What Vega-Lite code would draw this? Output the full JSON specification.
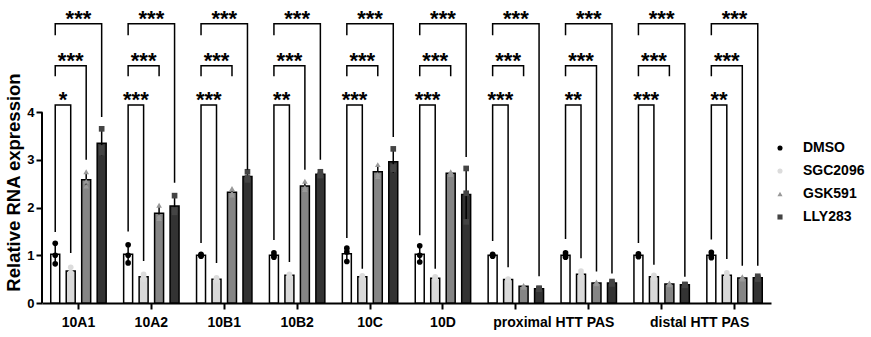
{
  "$schema": "https://vega.github.io/schema/vega-lite/v6.json",
  "width": 729,
  "height": 303,
  "autosize": {"type": "none"},
  "padding": {"left": 42, "top": 0, "right": 100, "bottom": 34},
  "config": {"font": "Liberation Sans", "view": {"stroke": null}},
  "datasets": {
    "pts": [
      {"c":"10A1","g":"DMSO","v":1.25},{"c":"10A1","g":"DMSO","v":1.0},{"c":"10A1","g":"DMSO","v":0.82},
      {"c":"10A1","g":"SGC2096","v":0.75},{"c":"10A1","g":"SGC2096","v":0.63},{"c":"10A1","g":"SGC2096","v":0.63},
      {"c":"10A1","g":"GSK591","v":2.75},{"c":"10A1","g":"GSK591","v":2.55},{"c":"10A1","g":"GSK591","v":2.45},
      {"c":"10A1","g":"LLY283","v":3.65},{"c":"10A1","g":"LLY283","v":3.25},{"c":"10A1","g":"LLY283","v":3.15},
      {"c":"10A2","g":"DMSO","v":1.22},{"c":"10A2","g":"DMSO","v":1.0},{"c":"10A2","g":"DMSO","v":0.84},
      {"c":"10A2","g":"SGC2096","v":0.6},{"c":"10A2","g":"SGC2096","v":0.55},{"c":"10A2","g":"SGC2096","v":0.5},
      {"c":"10A2","g":"GSK591","v":2.05},{"c":"10A2","g":"GSK591","v":1.82},{"c":"10A2","g":"GSK591","v":1.77},
      {"c":"10A2","g":"LLY283","v":2.25},{"c":"10A2","g":"LLY283","v":1.95},{"c":"10A2","g":"LLY283","v":1.9},
      {"c":"10B1","g":"DMSO","v":1.02},{"c":"10B1","g":"DMSO","v":1.0},{"c":"10B1","g":"DMSO","v":0.98},
      {"c":"10B1","g":"SGC2096","v":0.53},{"c":"10B1","g":"SGC2096","v":0.5},{"c":"10B1","g":"SGC2096","v":0.47},
      {"c":"10B1","g":"GSK591","v":2.4},{"c":"10B1","g":"GSK591","v":2.3},{"c":"10B1","g":"GSK591","v":2.26},
      {"c":"10B1","g":"LLY283","v":2.75},{"c":"10B1","g":"LLY283","v":2.62},{"c":"10B1","g":"LLY283","v":2.58},
      {"c":"10B2","g":"DMSO","v":1.05},{"c":"10B2","g":"DMSO","v":0.99},{"c":"10B2","g":"DMSO","v":0.96},
      {"c":"10B2","g":"SGC2096","v":0.6},{"c":"10B2","g":"SGC2096","v":0.58},{"c":"10B2","g":"SGC2096","v":0.56},
      {"c":"10B2","g":"GSK591","v":2.55},{"c":"10B2","g":"GSK591","v":2.42},{"c":"10B2","g":"GSK591","v":2.38},
      {"c":"10B2","g":"LLY283","v":2.75},{"c":"10B2","g":"LLY283","v":2.68},{"c":"10B2","g":"LLY283","v":2.67},
      {"c":"10C","g":"DMSO","v":1.15},{"c":"10C","g":"DMSO","v":1.07},{"c":"10C","g":"DMSO","v":0.87},
      {"c":"10C","g":"SGC2096","v":0.57},{"c":"10C","g":"SGC2096","v":0.55},{"c":"10C","g":"SGC2096","v":0.53},
      {"c":"10C","g":"GSK591","v":2.9},{"c":"10C","g":"GSK591","v":2.7},{"c":"10C","g":"GSK591","v":2.65},
      {"c":"10C","g":"LLY283","v":3.23},{"c":"10C","g":"LLY283","v":2.85},{"c":"10C","g":"LLY283","v":2.8},
      {"c":"10D","g":"DMSO","v":1.2},{"c":"10D","g":"DMSO","v":1.0},{"c":"10D","g":"DMSO","v":0.86},
      {"c":"10D","g":"SGC2096","v":0.55},{"c":"10D","g":"SGC2096","v":0.52},{"c":"10D","g":"SGC2096","v":0.49},
      {"c":"10D","g":"GSK591","v":2.75},{"c":"10D","g":"GSK591","v":2.72},{"c":"10D","g":"GSK591","v":2.69},
      {"c":"10D","g":"LLY283","v":2.82},{"c":"10D","g":"LLY283","v":2.3},{"c":"10D","g":"LLY283","v":1.7},
      {"c":"P1","g":"DMSO","v":1.02},{"c":"P1","g":"DMSO","v":1.0},{"c":"P1","g":"DMSO","v":0.98},
      {"c":"P1","g":"SGC2096","v":0.5},{"c":"P1","g":"SGC2096","v":0.49},{"c":"P1","g":"SGC2096","v":0.48},
      {"c":"P1","g":"GSK591","v":0.37},{"c":"P1","g":"GSK591","v":0.35},{"c":"P1","g":"GSK591","v":0.33},
      {"c":"P1","g":"LLY283","v":0.31},{"c":"P1","g":"LLY283","v":0.3},{"c":"P1","g":"LLY283","v":0.29},
      {"c":"P2","g":"DMSO","v":1.05},{"c":"P2","g":"DMSO","v":0.99},{"c":"P2","g":"DMSO","v":0.96},
      {"c":"P2","g":"SGC2096","v":0.67},{"c":"P2","g":"SGC2096","v":0.6},{"c":"P2","g":"SGC2096","v":0.53},
      {"c":"P2","g":"GSK591","v":0.44},{"c":"P2","g":"GSK591","v":0.42},{"c":"P2","g":"GSK591","v":0.4},
      {"c":"P2","g":"LLY283","v":0.45},{"c":"P2","g":"LLY283","v":0.41},{"c":"P2","g":"LLY283","v":0.4},
      {"c":"D1","g":"DMSO","v":1.03},{"c":"D1","g":"DMSO","v":1.0},{"c":"D1","g":"DMSO","v":0.97},
      {"c":"D1","g":"SGC2096","v":0.58},{"c":"D1","g":"SGC2096","v":0.55},{"c":"D1","g":"SGC2096","v":0.52},
      {"c":"D1","g":"GSK591","v":0.42},{"c":"D1","g":"GSK591","v":0.4},{"c":"D1","g":"GSK591","v":0.38},
      {"c":"D1","g":"LLY283","v":0.39},{"c":"D1","g":"LLY283","v":0.38},{"c":"D1","g":"LLY283","v":0.37},
      {"c":"D2","g":"DMSO","v":1.06},{"c":"D2","g":"DMSO","v":0.99},{"c":"D2","g":"DMSO","v":0.95},
      {"c":"D2","g":"SGC2096","v":0.63},{"c":"D2","g":"SGC2096","v":0.57},{"c":"D2","g":"SGC2096","v":0.54},
      {"c":"D2","g":"GSK591","v":0.55},{"c":"D2","g":"GSK591","v":0.52},{"c":"D2","g":"GSK591","v":0.5},
      {"c":"D2","g":"LLY283","v":0.56},{"c":"D2","g":"LLY283","v":0.53},{"c":"D2","g":"LLY283","v":0.5}
    ],
    "br": [
      {"c":"10A1","b":"10A1-1","g":"DMSO","y":1.49,"o":0},{"c":"10A1","b":"10A1-1","g":"DMSO","y":4.15,"o":1},{"c":"10A1","b":"10A1-1","g":"SGC2096","y":4.15,"o":2},{"c":"10A1","b":"10A1-1","g":"SGC2096","y":1.05,"o":3},
      {"c":"10A1","b":"10A1-2","g":"DMSO","y":4.75,"o":0},{"c":"10A1","b":"10A1-2","g":"DMSO","y":4.97,"o":1},{"c":"10A1","b":"10A1-2","g":"GSK591","y":4.97,"o":2},{"c":"10A1","b":"10A1-2","g":"GSK591","y":3.0,"o":3},
      {"c":"10A1","b":"10A1-3","g":"DMSO","y":5.61,"o":0},{"c":"10A1","b":"10A1-3","g":"DMSO","y":5.85,"o":1},{"c":"10A1","b":"10A1-3","g":"LLY283","y":5.85,"o":2},{"c":"10A1","b":"10A1-3","g":"LLY283","y":3.9,"o":3},
      {"c":"10A2","b":"10A2-1","g":"DMSO","y":1.5,"o":0},{"c":"10A2","b":"10A2-1","g":"DMSO","y":4.15,"o":1},{"c":"10A2","b":"10A2-1","g":"SGC2096","y":4.15,"o":2},{"c":"10A2","b":"10A2-1","g":"SGC2096","y":0.88,"o":3},
      {"c":"10A2","b":"10A2-2","g":"DMSO","y":4.75,"o":0},{"c":"10A2","b":"10A2-2","g":"DMSO","y":4.97,"o":1},{"c":"10A2","b":"10A2-2","g":"GSK591","y":4.97,"o":2},{"c":"10A2","b":"10A2-2","g":"GSK591","y":4.75,"o":3},
      {"c":"10A2","b":"10A2-3","g":"DMSO","y":5.61,"o":0},{"c":"10A2","b":"10A2-3","g":"DMSO","y":5.85,"o":1},{"c":"10A2","b":"10A2-3","g":"LLY283","y":5.85,"o":2},{"c":"10A2","b":"10A2-3","g":"LLY283","y":2.52,"o":3},
      {"c":"10B1","b":"10B1-1","g":"DMSO","y":1.26,"o":0},{"c":"10B1","b":"10B1-1","g":"DMSO","y":4.15,"o":1},{"c":"10B1","b":"10B1-1","g":"SGC2096","y":4.15,"o":2},{"c":"10B1","b":"10B1-1","g":"SGC2096","y":0.84,"o":3},
      {"c":"10B1","b":"10B1-2","g":"DMSO","y":4.75,"o":0},{"c":"10B1","b":"10B1-2","g":"DMSO","y":4.97,"o":1},{"c":"10B1","b":"10B1-2","g":"GSK591","y":4.97,"o":2},{"c":"10B1","b":"10B1-2","g":"GSK591","y":4.75,"o":3},
      {"c":"10B1","b":"10B1-3","g":"DMSO","y":5.61,"o":0},{"c":"10B1","b":"10B1-3","g":"DMSO","y":5.85,"o":1},{"c":"10B1","b":"10B1-3","g":"LLY283","y":5.85,"o":2},{"c":"10B1","b":"10B1-3","g":"LLY283","y":2.79,"o":3},
      {"c":"10B2","b":"10B2-1","g":"DMSO","y":1.32,"o":0},{"c":"10B2","b":"10B2-1","g":"DMSO","y":4.15,"o":1},{"c":"10B2","b":"10B2-1","g":"SGC2096","y":4.15,"o":2},{"c":"10B2","b":"10B2-1","g":"SGC2096","y":0.86,"o":3},
      {"c":"10B2","b":"10B2-2","g":"DMSO","y":4.75,"o":0},{"c":"10B2","b":"10B2-2","g":"DMSO","y":4.97,"o":1},{"c":"10B2","b":"10B2-2","g":"GSK591","y":4.97,"o":2},{"c":"10B2","b":"10B2-2","g":"GSK591","y":2.79,"o":3},
      {"c":"10B2","b":"10B2-3","g":"DMSO","y":5.61,"o":0},{"c":"10B2","b":"10B2-3","g":"DMSO","y":5.85,"o":1},{"c":"10B2","b":"10B2-3","g":"LLY283","y":5.85,"o":2},{"c":"10B2","b":"10B2-3","g":"LLY283","y":3.0,"o":3},
      {"c":"10C","b":"10C-1","g":"DMSO","y":1.36,"o":0},{"c":"10C","b":"10C-1","g":"DMSO","y":4.15,"o":1},{"c":"10C","b":"10C-1","g":"SGC2096","y":4.15,"o":2},{"c":"10C","b":"10C-1","g":"SGC2096","y":0.72,"o":3},
      {"c":"10C","b":"10C-2","g":"DMSO","y":4.75,"o":0},{"c":"10C","b":"10C-2","g":"DMSO","y":4.97,"o":1},{"c":"10C","b":"10C-2","g":"GSK591","y":4.97,"o":2},{"c":"10C","b":"10C-2","g":"GSK591","y":4.75,"o":3},
      {"c":"10C","b":"10C-3","g":"DMSO","y":5.61,"o":0},{"c":"10C","b":"10C-3","g":"DMSO","y":5.85,"o":1},{"c":"10C","b":"10C-3","g":"LLY283","y":5.85,"o":2},{"c":"10C","b":"10C-3","g":"LLY283","y":3.48,"o":3},
      {"c":"10D","b":"10D-1","g":"DMSO","y":1.42,"o":0},{"c":"10D","b":"10D-1","g":"DMSO","y":4.15,"o":1},{"c":"10D","b":"10D-1","g":"SGC2096","y":4.15,"o":2},{"c":"10D","b":"10D-1","g":"SGC2096","y":0.72,"o":3},
      {"c":"10D","b":"10D-2","g":"DMSO","y":4.75,"o":0},{"c":"10D","b":"10D-2","g":"DMSO","y":4.97,"o":1},{"c":"10D","b":"10D-2","g":"GSK591","y":4.97,"o":2},{"c":"10D","b":"10D-2","g":"GSK591","y":4.75,"o":3},
      {"c":"10D","b":"10D-3","g":"DMSO","y":5.61,"o":0},{"c":"10D","b":"10D-3","g":"DMSO","y":5.85,"o":1},{"c":"10D","b":"10D-3","g":"LLY283","y":5.85,"o":2},{"c":"10D","b":"10D-3","g":"LLY283","y":3.06,"o":3},
      {"c":"P1","b":"P1-1","g":"DMSO","y":1.3,"o":0},{"c":"P1","b":"P1-1","g":"DMSO","y":4.15,"o":1},{"c":"P1","b":"P1-1","g":"SGC2096","y":4.15,"o":2},{"c":"P1","b":"P1-1","g":"SGC2096","y":0.75,"o":3},
      {"c":"P1","b":"P1-2","g":"DMSO","y":4.75,"o":0},{"c":"P1","b":"P1-2","g":"DMSO","y":4.97,"o":1},{"c":"P1","b":"P1-2","g":"GSK591","y":4.97,"o":2},{"c":"P1","b":"P1-2","g":"GSK591","y":4.75,"o":3},
      {"c":"P1","b":"P1-3","g":"DMSO","y":5.61,"o":0},{"c":"P1","b":"P1-3","g":"DMSO","y":5.85,"o":1},{"c":"P1","b":"P1-3","g":"LLY283","y":5.85,"o":2},{"c":"P1","b":"P1-3","g":"LLY283","y":0.56,"o":3},
      {"c":"P2","b":"P2-1","g":"DMSO","y":1.34,"o":0},{"c":"P2","b":"P2-1","g":"DMSO","y":4.15,"o":1},{"c":"P2","b":"P2-1","g":"SGC2096","y":4.15,"o":2},{"c":"P2","b":"P2-1","g":"SGC2096","y":0.94,"o":3},
      {"c":"P2","b":"P2-2","g":"DMSO","y":4.75,"o":0},{"c":"P2","b":"P2-2","g":"DMSO","y":4.97,"o":1},{"c":"P2","b":"P2-2","g":"GSK591","y":4.97,"o":2},{"c":"P2","b":"P2-2","g":"GSK591","y":0.66,"o":3},
      {"c":"P2","b":"P2-3","g":"DMSO","y":5.61,"o":0},{"c":"P2","b":"P2-3","g":"DMSO","y":5.85,"o":1},{"c":"P2","b":"P2-3","g":"LLY283","y":5.85,"o":2},{"c":"P2","b":"P2-3","g":"LLY283","y":0.62,"o":3},
      {"c":"D1","b":"D1-1","g":"DMSO","y":1.26,"o":0},{"c":"D1","b":"D1-1","g":"DMSO","y":4.15,"o":1},{"c":"D1","b":"D1-1","g":"SGC2096","y":4.15,"o":2},{"c":"D1","b":"D1-1","g":"SGC2096","y":0.8,"o":3},
      {"c":"D1","b":"D1-2","g":"DMSO","y":4.75,"o":0},{"c":"D1","b":"D1-2","g":"DMSO","y":4.97,"o":1},{"c":"D1","b":"D1-2","g":"GSK591","y":4.97,"o":2},{"c":"D1","b":"D1-2","g":"GSK591","y":4.75,"o":3},
      {"c":"D1","b":"D1-3","g":"DMSO","y":5.61,"o":0},{"c":"D1","b":"D1-3","g":"DMSO","y":5.85,"o":1},{"c":"D1","b":"D1-3","g":"LLY283","y":5.85,"o":2},{"c":"D1","b":"D1-3","g":"LLY283","y":0.55,"o":3},
      {"c":"D2","b":"D2-1","g":"DMSO","y":1.33,"o":0},{"c":"D2","b":"D2-1","g":"DMSO","y":4.15,"o":1},{"c":"D2","b":"D2-1","g":"SGC2096","y":4.15,"o":2},{"c":"D2","b":"D2-1","g":"SGC2096","y":0.92,"o":3},
      {"c":"D2","b":"D2-2","g":"DMSO","y":4.75,"o":0},{"c":"D2","b":"D2-2","g":"DMSO","y":4.97,"o":1},{"c":"D2","b":"D2-2","g":"GSK591","y":4.97,"o":2},{"c":"D2","b":"D2-2","g":"GSK591","y":0.78,"o":3},
      {"c":"D2","b":"D2-3","g":"DMSO","y":5.61,"o":0},{"c":"D2","b":"D2-3","g":"DMSO","y":5.85,"o":1},{"c":"D2","b":"D2-3","g":"LLY283","y":5.85,"o":2},{"c":"D2","b":"D2-3","g":"LLY283","y":0.78,"o":3}
    ],
    "sig": [
      {"c":"10A1","l":1,"s":"*","y":4.15,"at":"DMSO"},{"c":"10A1","l":2,"s":"***","y":4.97,"at":"SGC2096"},{"c":"10A1","l":3,"s":"***","y":5.85,"at":"SGC2096"},
      {"c":"10A2","l":1,"s":"***","y":4.15,"at":"DMSO"},{"c":"10A2","l":2,"s":"***","y":4.97,"at":"SGC2096"},{"c":"10A2","l":3,"s":"***","y":5.85,"at":"SGC2096"},
      {"c":"10B1","l":1,"s":"***","y":4.15,"at":"DMSO"},{"c":"10B1","l":2,"s":"***","y":4.97,"at":"SGC2096"},{"c":"10B1","l":3,"s":"***","y":5.85,"at":"SGC2096"},
      {"c":"10B2","l":1,"s":"**","y":4.15,"at":"DMSO"},{"c":"10B2","l":2,"s":"***","y":4.97,"at":"SGC2096"},{"c":"10B2","l":3,"s":"***","y":5.85,"at":"SGC2096"},
      {"c":"10C","l":1,"s":"***","y":4.15,"at":"DMSO"},{"c":"10C","l":2,"s":"***","y":4.97,"at":"SGC2096"},{"c":"10C","l":3,"s":"***","y":5.85,"at":"SGC2096"},
      {"c":"10D","l":1,"s":"***","y":4.15,"at":"DMSO"},{"c":"10D","l":2,"s":"***","y":4.97,"at":"SGC2096"},{"c":"10D","l":3,"s":"***","y":5.85,"at":"SGC2096"},
      {"c":"P1","l":1,"s":"***","y":4.15,"at":"DMSO"},{"c":"P1","l":2,"s":"***","y":4.97,"at":"SGC2096"},{"c":"P1","l":3,"s":"***","y":5.85,"at":"SGC2096"},
      {"c":"P2","l":1,"s":"**","y":4.15,"at":"DMSO"},{"c":"P2","l":2,"s":"***","y":4.97,"at":"SGC2096"},{"c":"P2","l":3,"s":"***","y":5.85,"at":"SGC2096"},
      {"c":"D1","l":1,"s":"***","y":4.15,"at":"DMSO"},{"c":"D1","l":2,"s":"***","y":4.97,"at":"SGC2096"},{"c":"D1","l":3,"s":"***","y":5.85,"at":"SGC2096"},
      {"c":"D2","l":1,"s":"**","y":4.15,"at":"DMSO"},{"c":"D2","l":2,"s":"***","y":4.97,"at":"SGC2096"},{"c":"D2","l":3,"s":"***","y":5.85,"at":"SGC2096"}
    ]
  },
  "encoding": {
    "x": {
      "field": "c", "type": "nominal",
      "scale": {"domain": ["10A1","10A2","10B1","10B2","10C","10D","P1","P2","D1","D2"], "paddingInner": 0, "paddingOuter": 0},
      "axis": {
        "title": null, "labelAngle": 0, "tickSize": 6, "tickWidth": 2, "tickColor": "black",
        "domainWidth": 2, "domainColor": "black", "labelFontSize": 14, "labelFontWeight": "bold",
        "labelColor": "black", "labelPadding": 6, "labelOverlap": false, "labelBound": false,
        "labelExpr": "datum.value == 'P1' ? 'proximal HTT PAS' : datum.value == 'D1' ? 'distal HTT PAS' : (datum.value == 'P2' || datum.value == 'D2') ? '' : datum.value",
        "labelOffset": {"condition": {"test": "datum.value == 'P1' || datum.value == 'D1'", "value": 38}, "value": 0}
      }
    },
    "xOffset": {
      "field": "g", "type": "nominal",
      "scale": {"domain": ["DMSO","SGC2096","GSK591","LLY283"], "paddingInner": 0.42, "paddingOuter": 0.565}
    }
  },
  "layer": [
    {
      "data": {"name": "pts"},
      "mark": {"type": "bar", "stroke": "black", "strokeWidth": 1.5},
      "encoding": {
        "y": {
          "aggregate": "mean", "field": "v", "type": "quantitative", "title": "Relative RNA expression",
          "scale": {"domain": [0, 6.35], "nice": false, "zero": true},
          "axis": {
            "values": [0,1,2,3,4], "grid": false, "domain": false,
            "tickSize": 6, "tickWidth": 2, "tickColor": "black", "labelFontSize": 13, "labelFontWeight": "bold",
            "labelColor": "black", "labelPadding": 2, "titleFontSize": 18.5, "titleFontWeight": "bold",
            "titleColor": "black", "titleX": -19, "titleY": 182
          }
        },
        "fill": {
          "field": "g", "type": "nominal",
          "scale": {"range": ["#ffffff","#858585","#333333","#d9d9d9"]},
          "legend": null
        }
      }
    },
    {
      "data": {"name": "pts"},
      "mark": {"type": "errorbar", "extent": "stdev", "color": "black", "thickness": 1.5},
      "encoding": {
        "y": {"field": "v", "type": "quantitative", "title": "Relative RNA expression"}
      }
    },
    {
      "data": {"name": "pts"},
      "mark": {"type": "point", "filled": true, "size": 32, "opacity": 1},
      "encoding": {
        "y": {"field": "v", "type": "quantitative", "title": "Relative RNA expression"},
        "color": {
          "field": "g", "type": "nominal",
          "scale": {"domain": ["DMSO","SGC2096","GSK591","LLY283"], "range": ["#000000","#dcdcdc","#999999","#444444"]},
          "legend": {"title": null, "orient": "none", "legendX": 731, "legendY": 141, "padding": 0,
            "labelFontSize": 14, "labelFontWeight": "bold", "labelColor": "black", "symbolSize": 26,
            "labelOffset": 16, "rowPadding": 9}
        },
        "shape": {
          "field": "g", "type": "nominal",
          "scale": {"domain": ["DMSO","SGC2096","GSK591","LLY283"], "range": ["circle","circle","triangle-up","square"]},
          "legend": {"title": null, "orient": "none", "legendX": 731, "legendY": 141, "padding": 0,
            "labelFontSize": 14, "labelFontWeight": "bold", "labelColor": "black", "symbolSize": 26,
            "labelOffset": 16, "rowPadding": 9}
        }
      }
    },
    {
      "data": {"name": "br"},
      "mark": {"type": "line", "color": "black", "strokeWidth": 1.5, "strokeJoin": "miter", "strokeCap": "butt"},
      "encoding": {
        "y": {"field": "y", "type": "quantitative", "title": "Relative RNA expression"},
        "detail": {"field": "b"},
        "order": {"field": "o", "type": "quantitative"}
      }
    },
    {
      "data": {"name": "sig"},
      "transform": [{"filter": "datum.l != 2"}],
      "mark": {"type": "text", "fontSize": 22, "fontWeight": "bold", "baseline": "alphabetic", "align": "center", "dx": 7.74, "dy": 2.5, "color": "black"},
      "encoding": {
        "xOffset": {"field": "at", "type": "nominal"},
        "y": {"field": "y", "type": "quantitative", "title": "Relative RNA expression"},
        "text": {"field": "s"}
      }
    },
    {
      "data": {"name": "sig"},
      "transform": [{"filter": "datum.l == 2"}],
      "mark": {"type": "text", "fontSize": 22, "fontWeight": "bold", "baseline": "alphabetic", "align": "center", "dy": 2.5, "color": "black"},
      "encoding": {
        "xOffset": {"field": "at", "type": "nominal"},
        "y": {"field": "y", "type": "quantitative", "title": "Relative RNA expression"},
        "text": {"field": "s"}
      }
    },
    {
      "data": {"values": [{}]},
      "mark": {"type": "rule", "color": "black", "strokeWidth": 2},
      "encoding": {
        "x": {"datum": "10A1", "bandPosition": 0},
        "xOffset": null,
        "y": {"datum": 0, "title": "Relative RNA expression"},
        "y2": {"datum": 4}
      }
    }
  ]
}
